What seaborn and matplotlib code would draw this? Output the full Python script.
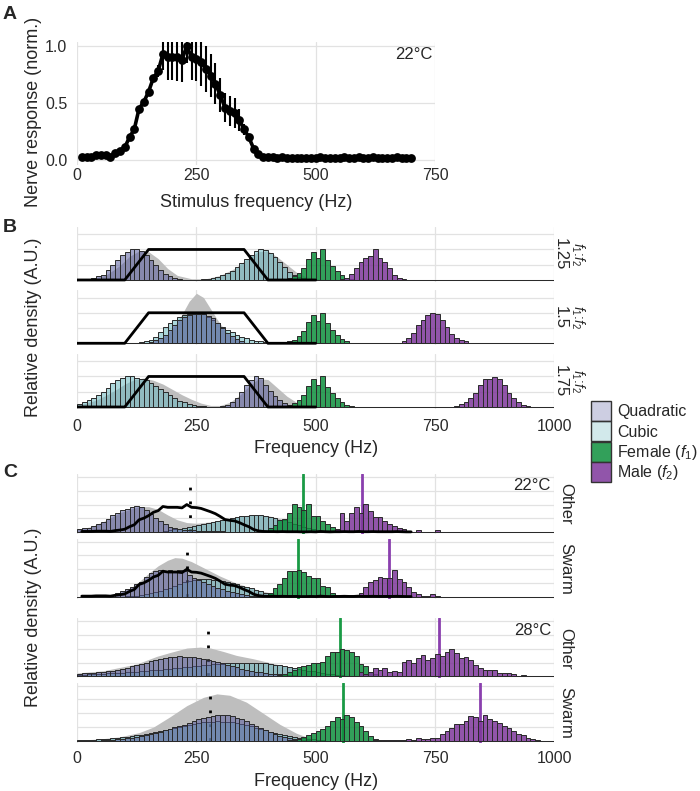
import numpy as np
import pandas as pd
import matplotlib
matplotlib.use('Agg')
import matplotlib.pyplot as plt
from matplotlib.colors import to_rgba
from matplotlib.patches import Patch
import seaborn as sns

# ---------------- panel A: nerve response at 22 C ----------------
stim_freq = [10, 20, 30, 40, 50, 60, 70, 80, 90, 100, 110, 120, 130, 140, 150, 160, 170,
             180, 190, 200, 210, 220, 230, 240, 250, 260, 270, 280, 290, 300, 310, 320,
             330, 340, 350, 360, 370, 380, 390, 400, 410, 420, 430, 440, 450, 460, 470,
             480, 490, 500, 510, 520, 530, 540, 550, 560, 570, 580, 590, 600, 610, 620,
             630, 640, 650, 660, 670, 680, 690, 700]
response = [0.03, 0.03, 0.03, 0.04, 0.04, 0.04, 0.03,
            0.06, 0.08, 0.11, 0.2, 0.27, 0.45, 0.51, 0.6, 0.72, 0.78,
            0.93, 0.9, 0.9, 0.9, 0.88, 1.0, 0.9, 0.89, 0.86,
            0.8, 0.74, 0.67, 0.57, 0.46, 0.43, 0.41, 0.35, 0.27, 0.2, 0.1, 0.05, 0.03, 0.025,
            0.025, 0.02, 0.025, 0.02, 0.02, 0.02, 0.015, 0.015, 0.02, 0.015, 0.03, 0.02,
            0.015, 0.02, 0.02, 0.025, 0.02, 0.02, 0.03, 0.02, 0.02, 0.025, 0.02, 0.02,
            0.02, 0.02, 0.025, 0.02, 0.015, 0.015]
response_err = [0, 0, 0, 0, 0, 0, 0, 0, 0, 0, 0, 0, 0, 0, 0, 0,
                0.05, 0.14, 0.2, 0.2, 0.21, 0.2, 0.15, 0.2, 0.2, 0.21, 0.2, 0.19, 0.18, 0.15,
                0.13, 0.13, 0.13, 0.1, 0.05,
                0, 0, 0, 0, 0, 0, 0, 0, 0, 0, 0, 0, 0, 0, 0, 0, 0, 0, 0, 0, 0, 0, 0, 0,
                0, 0, 0, 0, 0, 0, 0, 0, 0, 0, 0]
nerve_scale_c = 2.0   # response curve as overlaid in panel C

# ---------------- panel B: model distributions ----------------
ratio_labels = ['1.25', '1.5', '1.75']
filter_freq = [0, 100, 150, 350, 400, 500]
filter_level = [0, 0, 2, 2, 0, 0]

female_b_start = 430
female_b = [0.08, 0.13, 0.24, 0.46, 0.78, 1.4, 1.83, 1.43, 2.0, 1.3, 0.9, 0.57, 0.3, 0.13, 0.05, 0.02]

quad_125_start = 20
quad_125 = [0.05, 0.13, 0.24, 0.35, 0.68, 0.97, 1.3, 1.63, 1.85, 2.0, 2.0, 1.9, 1.63, 1.3, 0.97,
            0.68, 0.4, 0.24, 0.13, 0.07, 0.03]
cubic_125_start = 250
cubic_125 = [0.02, 0.04, 0.08, 0.13, 0.2, 0.3, 0.45, 0.62, 0.85, 1.1, 1.38, 1.65, 1.88, 2.0, 1.97,
             1.8, 1.5, 1.15, 0.82, 0.55, 0.35, 0.2, 0.1, 0.05, 0.02]
male_125_start = 550
male_125 = [0.05, 0.1, 0.4, 0.8, 1.15, 1.45, 1.55, 2.0, 1.45, 1.15, 0.8, 0.35, 0.1, 0.04]
grey_125_x = [0, 30, 60, 90, 110, 130, 150, 170, 190, 210, 240, 270, 300, 330, 360, 380, 400,
              420, 440, 460, 480, 510, 540]
grey_125_y = [0, 0.05, 0.3, 0.95, 1.55, 1.9, 1.85, 1.4, 0.75, 0.3, 0.08, 0.08, 0.3, 0.75, 1.45,
              1.85, 1.9, 1.5, 1.0, 0.5, 0.2, 0.05, 0]

quad_150_start = 150
quad_150 = [0.1, 0.2, 0.35, 0.55, 0.87, 1.2, 1.53, 1.75, 1.86, 1.92, 1.95, 1.92, 1.8, 1.64, 1.31,
            0.98, 0.7, 0.45, 0.25, 0.12, 0.05]
cubic_150_start = 110
cubic_150 = [0.03, 0.05, 0.08, 0.13, 0.22, 0.43, 0.76, 1.09, 1.31, 1.53, 1.7, 1.85, 1.93, 1.97,
             1.97, 1.9, 1.75, 1.55, 1.3, 1.09, 0.9, 0.76, 0.54, 0.43, 0.33, 0.22, 0.18, 0.12,
             0.08, 0.04]
male_150_start = 670
male_150 = [0.05, 0.12, 0.35, 0.67, 1.2, 1.55, 1.87, 1.98, 1.9, 1.55, 1.07, 0.6, 0.35, 0.2, 0.12, 0.05]
grey_150_x = [120, 150, 170, 190, 205, 220, 235, 250, 265, 280, 295, 310, 330, 350, 380]
grey_150_y = [0.0, 0.05, 0.2, 0.6, 1.15, 1.9, 2.75, 3.28, 3.0, 2.25, 1.5, 0.85, 0.3, 0.08, 0.0]

quad_175_start = 290
quad_175 = [0.03, 0.06, 0.12, 0.3, 0.6, 1.0, 1.45, 1.8, 2.0, 1.9, 1.45, 1.05, 0.7, 0.45, 0.25,
            0.12, 0.05, 0.02]
cubic_175_start = 0
cubic_175 = [0.17, 0.3, 0.43, 0.57, 0.78, 1.0, 1.26, 1.55, 1.76, 1.93, 2.0, 2.0, 1.93, 1.85, 1.75,
             1.6, 1.4, 1.2, 1.0, 0.78, 0.57, 0.4, 0.3, 0.2, 0.13, 0.08, 0.04]
male_175_start = 780
male_175 = [0.03, 0.07, 0.17, 0.3, 0.57, 0.9, 1.43, 1.83, 1.83, 1.96, 1.85, 1.43, 0.9, 0.57, 0.3,
            0.13, 0.07, 0.03]
grey_175_x = [0, 20, 40, 60, 80, 100, 120, 140, 160, 180, 200, 220, 240, 260, 280, 300, 320, 340,
              360, 380, 400, 420, 440, 460, 480]
grey_175_y = [0.1, 0.25, 0.45, 0.75, 1.1, 1.5, 1.8, 1.9, 1.75, 1.5, 1.15, 0.8, 0.5, 0.25, 0.1,
              0.1, 0.3, 0.75, 1.35, 1.85, 1.8, 1.25, 0.7, 0.3, 0.08]

# ---------------- panel C: recorded songs ----------------
group_labels = ['Other', 'Swarm', 'Other', 'Swarm']
temp_labels = ['22°C', None, '28°C', None]
female_mean = [473, 462, 550, 557]
male_mean = [598, 653, 759, 845]
product_mean = [237, 231, 275, 279]

quad_22o_start = 0
quad_22o = [0.2, 0.29, 0.34, 0.46, 0.58, 0.77, 0.99, 1.25, 1.42, 1.61, 1.71, 1.83, 1.9, 1.83, 1.61,
            1.35, 1.06, 0.82, 0.58, 0.41, 0.29, 0.22, 0.18, 0.15, 0.13, 0.12, 0.1, 0.09, 0.08,
            0.07, 0.06, 0.05, 0.04, 0.03]
cubic_22o_start = 180
cubic_22o = [0.1, 0.15, 0.2, 0.27, 0.33, 0.4, 0.46, 0.52, 0.6, 0.68, 0.75, 0.82, 0.9, 0.95, 1.02,
             1.1, 1.15, 1.2, 1.25, 1.22, 1.25, 1.18, 1.1, 1.0, 0.92, 0.85, 0.75, 0.62, 0.5, 0.38,
             0.28, 0.2, 0.12, 0.07, 0.04]
female_22o_start = 400
female_22o = [0.3, 0.55, 0.87, 0.99, 1.42, 2.02, 1.83, 1.6, 2.02, 1.18, 1.18, 0.82, 0.63, 0.35,
              0.15, 0.05]
male_22o_start = 540
male_22o = [0.25, 1.42, 0.82, 1.42, 1.83, 1.42, 2.02, 1.54, 1.1, 1.1, 0.82, 0.63, 0.46, 0.29, 0.2,
            0.1, 0.0, 0.15, 0.0, 0.0, 0.0, 0.15]
grey_22o_x = [0, 30, 60, 90, 110, 130, 150, 170, 190, 210, 230, 250, 280, 310, 340, 370, 400, 430,
              460, 490, 520, 560, 600]
grey_22o_y = [0.22, 0.4, 0.85, 1.4, 1.65, 1.85, 1.85, 1.65, 1.25, 0.9, 0.7, 0.65, 0.75, 0.95, 1.15,
              1.27, 1.2, 0.95, 0.6, 0.3, 0.12, 0.03, 0.0]

quad_22s_start = 60
quad_22s = [0.1, 0.15, 0.25, 0.4, 0.55, 0.7, 0.9, 1.1, 1.45, 1.75, 1.9, 1.92, 1.9, 1.95, 1.9, 1.92,
            1.85, 1.55, 1.4, 1.25, 1.1, 0.95, 0.8, 0.65, 0.55, 0.45, 0.35, 0.27, 0.2, 0.14, 0.1, 0.06]
cubic_22s_start = 100
cubic_22s = [0.05, 0.08, 0.1, 0.15, 0.2, 0.28, 0.35, 0.45, 0.55, 0.68, 0.8, 0.92, 1.05, 1.15, 1.25,
             1.3, 1.28, 1.3, 1.25, 1.2, 1.15, 1.05, 0.98, 0.92, 0.8, 0.7, 0.63, 0.5, 0.4, 0.31,
             0.22, 0.14, 0.1, 0.06, 0.04]
female_22s_start = 380
female_22s = [0.05, 0.15, 0.3, 0.67, 0.92, 1.35, 1.88, 1.88, 1.95, 1.83, 1.52, 1.4, 1.35, 0.82,
              0.75, 0.27, 0.1, 0.05]
male_22s_start = 560
male_22s = [0.05, 0.1, 0.1, 0.25, 0.75, 1.1, 1.22, 1.47, 1.35, 1.4, 1.95, 1.3, 1.1, 0.75, 0.39,
            0.2, 0.1, 0.1, 0.2, 0.1]
grey_22s_x = [20, 60, 90, 110, 130, 150, 170, 190, 205, 220, 240, 260, 280, 300, 330, 360, 390,
              420, 450, 480, 520]
grey_22s_y = [0.02, 0.1, 0.3, 0.6, 1.1, 1.7, 2.25, 2.65, 2.84, 2.8, 2.55, 2.2, 1.85, 1.5, 1.05,
              0.7, 0.4, 0.2, 0.1, 0.04, 0.0]

quad_28o_start = 0
quad_28o = [0.2, 0.22, 0.24, 0.27, 0.3, 0.34, 0.38, 0.43, 0.49, 0.56, 0.64, 0.72, 0.8, 0.9, 1.0,
            1.1, 1.18, 1.27, 1.33, 1.38, 1.42, 1.45, 1.44, 1.42, 1.38, 1.33, 1.27, 1.2, 1.12,
            1.03, 0.95, 0.85, 0.75, 0.65, 0.56, 0.48, 0.4, 0.34, 0.29, 0.25, 0.21, 0.18, 0.15,
            0.12, 0.1, 0.08, 0.06, 0.05, 0.04, 0.03]
cubic_28o_start = 0
cubic_28o = [0.12, 0.13, 0.15, 0.16, 0.18, 0.2, 0.22, 0.24, 0.26, 0.28, 0.3, 0.33, 0.35, 0.38,
             0.41, 0.44, 0.47, 0.5, 0.53, 0.56, 0.6, 0.63, 0.66, 0.7, 0.74, 0.78, 0.8, 0.84, 0.87,
             0.9, 0.93, 0.95, 0.97, 0.99, 1.0, 1.0, 1.0, 0.99, 0.97, 0.95, 0.9, 0.85, 0.8, 0.73,
             0.66, 0.6, 0.54, 0.48, 0.42, 0.36, 0.3, 0.25, 0.2, 0.16, 0.12, 0.09, 0.06, 0.04]
female_28o_start = 420
female_28o = [0.1, 0.2, 0.35, 0.5, 0.7, 0.72, 0.8, 0.95, 1.0, 1.05, 1.45, 1.8, 1.75, 2.0, 1.9,
              1.8, 1.45, 0.9, 0.78, 0.35, 0.15, 0.05]
male_28o_start = 590
male_28o = [0.3, 0.2, 0.3, 0.6, 0.45, 0.6, 0.3, 0.4, 0.3, 1.08, 1.2, 0.97, 1.33, 1.52, 1.2, 1.33,
            1.61, 1.45, 1.8, 2.0, 1.69, 1.33, 1.37, 1.2, 0.84, 0.6, 0.48, 0.48, 0.48, 0.24, 0.24,
            0.24, 0.17, 0.0, 0.1]
grey_28o_x = [0, 55, 125, 167, 195, 230, 258, 280, 307, 334, 369, 404, 439, 474, 510, 550, 600]
grey_28o_y = [0.25, 0.41, 0.9, 1.45, 1.73, 2.05, 2.12, 2.05, 1.8, 1.52, 1.28, 1.0, 0.72, 0.48,
              0.3, 0.12, 0.02]

quad_28s_start = 40
quad_28s = [0.03, 0.05, 0.07, 0.1, 0.13, 0.16, 0.2, 0.24, 0.29, 0.35, 0.42, 0.5, 0.58, 0.68, 0.78,
            0.88, 0.98, 1.08, 1.18, 1.3, 1.42, 1.55, 1.65, 1.75, 1.83, 1.88, 1.88, 1.85, 1.78,
            1.68, 1.55, 1.42, 1.25, 1.08, 0.92, 0.78, 0.62, 0.5, 0.38, 0.3, 0.22, 0.16, 0.11,
            0.07, 0.05, 0.03]
cubic_28s_start = 0
cubic_28s = [0.05, 0.06, 0.08, 0.1, 0.12, 0.14, 0.17, 0.2, 0.23, 0.27, 0.31, 0.35, 0.4, 0.46,
             0.52, 0.58, 0.65, 0.72, 0.8, 0.88, 0.95, 1.02, 1.1, 1.17, 1.24, 1.3, 1.35, 1.38, 1.4,
             1.41, 1.4, 1.38, 1.35, 1.3, 1.22, 1.15, 1.06, 0.97, 0.88, 0.78, 0.68, 0.6, 0.52,
             0.44, 0.37, 0.3, 0.24, 0.19, 0.15, 0.11, 0.08, 0.05, 0.03]
female_28s_start = 440
female_28s = [0.05, 0.1, 0.15, 0.25, 0.4, 0.6, 0.72, 0.85, 1.09, 1.45, 1.7, 1.62, 1.89, 1.7, 1.38,
              1.09, 0.73, 0.36, 0.17, 0.07]
male_28s_start = 620
male_28s = [0.05, 0.0, 0.05, 0.1, 0.1, 0.05, 0.1, 0.15, 0.1, 0.2, 0.15, 0.15, 0.2, 0.24, 0.48,
            0.73, 0.97, 1.21, 1.21, 1.45, 1.82, 1.7, 1.45, 1.87, 1.57, 1.45, 1.33, 1.09, 0.97,
            0.73, 0.48, 0.41, 0.24, 0.12, 0.05]
grey_28s_x = [0, 50, 90, 130, 160, 195, 230, 265, 293, 320, 355, 390, 425, 460, 490, 520, 560]
grey_28s_y = [0.05, 0.15, 0.3, 0.6, 1.0, 1.75, 2.55, 3.15, 3.4, 3.3, 2.8, 2.0, 1.2, 0.55, 0.18,
              0.05, 0.0]

# ---------------- styling ----------------
QUAD = '#5a5fa0'
CUBIC = '#6bb8c0'
FEMALE = '#0e8f3d'
MALE = '#7e379b'
GREY = '#bebebe'
EDGE = '#2a2a2a'
TICK_COL = '#2a2a2a'

sns.set_style('whitegrid')
plt.rcParams['font.family'] = ['Liberation Sans', 'DejaVu Sans']
plt.rcParams['mathtext.fontset'] = 'custom'
plt.rcParams['mathtext.rm'] = 'Liberation Sans'
plt.rcParams['mathtext.it'] = 'Liberation Sans:italic'

W, H = 700, 791


def frame(left, top, right, bottom):
    return [left / W, 1 - bottom / H, (right - left) / W, (bottom - top) / H]


def draw_hist(ax, start, heights, color, alpha):
    # every 10 Hz bin from 0 to 1000 is drawn, empty ones give the dark baseline
    bins = pd.DataFrame({'freq': [start + 5 + 10 * i for i in range(len(heights))],
                         'height': heights})
    sns.histplot(data=bins, x='freq', weights='height', binwidth=10, binrange=(0, 1000),
                 color=color, alpha=alpha, edgecolor=EDGE, linewidth=0.7, ax=ax)


def style_density(ax, n_grid, ylim, show_x, pad):
    ax.set_xlim(0, 1000)
    ax.set_ylim(*ylim)
    ax.set_xticks([0, 250, 500, 750, 1000])
    ax.set_yticks(range(n_grid))
    ax.set_yticklabels([])
    ax.set_xlabel('')
    ax.set_ylabel('')
    ax.grid(True, color='#e2e2e2', lw=0.9)
    ax.set_axisbelow(True)
    for s in ax.spines.values():
        s.set_visible(False)
    ax.tick_params(length=0, labelsize=11.5, colors=TICK_COL, pad=pad)
    if not show_x:
        ax.set_xticklabels([])


fig = plt.figure(figsize=(7, 7.91), dpi=100)

# ---- A ----
axA = fig.add_axes(frame(77, 41.7, 435, 165))
axA.errorbar(stim_freq, response, yerr=response_err, fmt='none', ecolor='black',
             elinewidth=1.5, capsize=0, zorder=2)
sns.lineplot(x=stim_freq, y=response, color='black', lw=2.6, ax=axA, zorder=3)
sns.scatterplot(x=stim_freq, y=response, s=40, color='black', edgecolor='black',
                linewidth=0, ax=axA, zorder=4)
axA.set_xlim(0, 750)
axA.set_ylim(-0.044, 1.038)
axA.set_xticks([0, 250, 500, 750])
axA.set_yticks([0, 0.5, 1.0])
axA.set_yticklabels(['0.0', '0.5', '1.0'])
axA.set_xlabel('')
axA.set_ylabel('')
axA.grid(True, color='#e2e2e2', lw=0.9)
axA.set_axisbelow(True)
for s in axA.spines.values():
    s.set_visible(False)
axA.tick_params(length=0, labelsize=11.5, colors=TICK_COL)
axA.tick_params(axis='x', pad=2)
axA.tick_params(axis='y', pad=7)
axA.text(0.994, 0.957, '22°C', transform=axA.transAxes, ha='right', va='top', fontsize=12)

# ---- B ----
b_frames = [(226.6, 281.8), (289.9, 345.1), (353.6, 408.8)]
b_quad = [(quad_125_start, quad_125), (quad_150_start, quad_150), (quad_175_start, quad_175)]
b_cubic = [(cubic_125_start, cubic_125), (cubic_150_start, cubic_150), (cubic_175_start, cubic_175)]
b_male = [(male_125_start, male_125), (male_150_start, male_150), (male_175_start, male_175)]
b_grey = [(grey_125_x, grey_125_y), (grey_150_x, grey_150_y), (grey_175_x, grey_175_y)]

for i, (top, bottom) in enumerate(b_frames):
    ax = fig.add_axes(frame(77, top, 554.3, bottom))
    ax.fill_between(b_grey[i][0], b_grey[i][1], color=GREY, lw=0, zorder=0.8)
    draw_hist(ax, b_cubic[i][0], b_cubic[i][1], CUBIC, 0.55)
    draw_hist(ax, b_quad[i][0], b_quad[i][1], QUAD, 0.55)
    draw_hist(ax, female_b_start, female_b, FEMALE, 0.85)
    draw_hist(ax, b_male[i][0], b_male[i][1], MALE, 0.85)
    sns.lineplot(x=filter_freq, y=filter_level, color='black', lw=2.0, ax=ax, zorder=3)
    style_density(ax, 4, (-0.12, 3.5), i == 2, 7.5)
    ax.annotate(ratio_labels[i], xy=(1, 0.5), xycoords='axes fraction', xytext=(4.5, 0),
                textcoords='offset points', rotation=-90, ha='center', va='center',
                fontsize=12)
    ax.annotate('$f_1$:$f_2$', xy=(1, 0.5), xycoords='axes fraction', xytext=(16.5, 0),
                textcoords='offset points', rotation=-90, ha='center', va='center',
                fontsize=10)

# ---- C ----
c_frames = [(474.1, 534.2), (538.8, 598.9), (618.3, 678.4), (682.8, 742.9)]
c_quad = [(quad_22o_start, quad_22o), (quad_22s_start, quad_22s),
          (quad_28o_start, quad_28o), (quad_28s_start, quad_28s)]
c_cubic = [(cubic_22o_start, cubic_22o), (cubic_22s_start, cubic_22s),
           (cubic_28o_start, cubic_28o), (cubic_28s_start, cubic_28s)]
c_female = [(female_22o_start, female_22o), (female_22s_start, female_22s),
            (female_28o_start, female_28o), (female_28s_start, female_28s)]
c_male = [(male_22o_start, male_22o), (male_22s_start, male_22s),
          (male_28o_start, male_28o), (male_28s_start, male_28s)]
c_grey = [(grey_22o_x, grey_22o_y), (grey_22s_x, grey_22s_y),
          (grey_28o_x, grey_28o_y), (grey_28s_x, grey_28s_y)]

for i, (top, bottom) in enumerate(c_frames):
    ax = fig.add_axes(frame(77, top, 554.3, bottom))
    ax.fill_between(c_grey[i][0], c_grey[i][1], color=GREY, lw=0, zorder=0.8)
    ax.axvline(product_mean[i], ymax=0.95, color='black', lw=2.0, ls=(4.05, (1, 3.98)), zorder=0.9)
    ax.axvline(female_mean[i], color='#1a9a45', lw=2.0, zorder=0.9)
    ax.axvline(male_mean[i], color='#8a3fae', lw=2.0, zorder=0.9)
    draw_hist(ax, c_cubic[i][0], c_cubic[i][1], CUBIC, 0.55)
    draw_hist(ax, c_quad[i][0], c_quad[i][1], QUAD, 0.55)
    draw_hist(ax, c_female[i][0], c_female[i][1], FEMALE, 0.85)
    draw_hist(ax, c_male[i][0], c_male[i][1], MALE, 0.85)
    if i < 2:
        sns.lineplot(x=stim_freq, y=[v * nerve_scale_c for v in response], color='black',
                     lw=2.0, ax=ax, zorder=3)
    style_density(ax, 5, (-0.14, 4.2), i == 3, 5.8)
    ax.annotate(group_labels[i], xy=(1, 0.5), xycoords='axes fraction', xytext=(8, 0),
                textcoords='offset points', rotation=-90, ha='center', va='center',
                fontsize=12)
    if temp_labels[i]:
        ax.text(0.993, 0.93, temp_labels[i], transform=ax.transAxes, ha='right', va='top',
                fontsize=12)

# ---- shared labels ----
fig.text(256 / W, 1 - 206.7 / H, 'Stimulus frequency (Hz)', ha='center', va='baseline', fontsize=13)
fig.text(315.6 / W, 1 - 453 / H, 'Frequency (Hz)', ha='center', va='baseline', fontsize=13)
fig.text(315.6 / W, 1 - 786 / H, 'Frequency (Hz)', ha='center', va='baseline', fontsize=13)
fig.text(34 / W, 1 - 112 / H, 'Nerve response (norm.)', rotation=90, ha='center', va='center', fontsize=13)
fig.text(34 / W, 1 - 327 / H, 'Relative density (A.U.)', rotation=90, ha='center', va='center', fontsize=13)
fig.text(34 / W, 1 - 617 / H, 'Relative density (A.U.)', rotation=90, ha='center', va='center', fontsize=13)
for letter, y in [('A', 14.5), ('B', 228), ('C', 472.5)]:
    fig.text(3 / W, 1 - y / H, letter, ha='left', va='center', fontsize=14, fontweight='bold')

handles = [Patch(facecolor=to_rgba(QUAD, 0.3), edgecolor='#333333', lw=1),
           Patch(facecolor=to_rgba(CUBIC, 0.3), edgecolor='#333333', lw=1),
           Patch(facecolor=to_rgba(FEMALE, 0.85), edgecolor='#333333', lw=1),
           Patch(facecolor=to_rgba(MALE, 0.85), edgecolor='#333333', lw=1)]
labels = ['Quadratic', 'Cubic', 'Female ($f_1$)', 'Male ($f_2$)']
fig.legend(handles, labels, loc='upper left', bbox_to_anchor=(590.7 / W, 1 - 401 / H),
           frameon=False, fontsize=11.5, handlelength=1.25, handleheight=1.55,
           handletextpad=0.4, labelspacing=0.02, borderpad=0, borderaxespad=0)

fig.savefig('out.png', dpi=100)
